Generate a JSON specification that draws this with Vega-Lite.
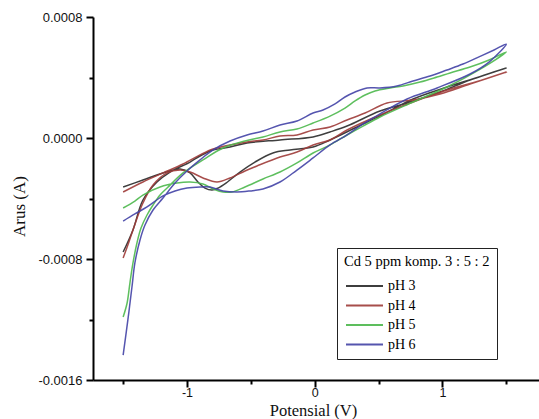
{
  "$schema": "https://vega.github.io/schema/vega-lite/v6.json",
  "width": 446,
  "height": 363,
  "autosize": {"type": "none"},
  "padding": {"left": 93, "top": 17, "right": 0, "bottom": 39},
  "background": "white",
  "config": {"view": {"stroke": null}},
  "data": {"values": [
    {"s":"pH 3","o":1,"v":-1.5,"i":-0.000324},
    {"s":"pH 3","o":2,"v":-1.345,"i":-0.000278},
    {"s":"pH 3","o":3,"v":-1.188,"i":-0.000231},
    {"s":"pH 3","o":4,"v":-1.054,"i":-0.000205},
    {"s":"pH 3","o":5,"v":-0.976,"i":-0.000231},
    {"s":"pH 3","o":6,"v":-0.914,"i":-0.000291},
    {"s":"pH 3","o":7,"v":-0.859,"i":-0.000331},
    {"s":"pH 3","o":8,"v":-0.804,"i":-0.000344},
    {"s":"pH 3","o":9,"v":-0.757,"i":-0.000331},
    {"s":"pH 3","o":10,"v":-0.695,"i":-0.000298},
    {"s":"pH 3","o":11,"v":-0.585,"i":-0.000225},
    {"s":"pH 3","o":12,"v":-0.468,"i":-0.000159},
    {"s":"pH 3","o":13,"v":-0.327,"i":-0.000099},
    {"s":"pH 3","o":14,"v":-0.193,"i":-0.000079},
    {"s":"pH 3","o":15,"v":-0.013,"i":-0.000060},
    {"s":"pH 3","o":16,"v":0.120,"i":-0.000013},
    {"s":"pH 3","o":17,"v":0.331,"i":0.000073},
    {"s":"pH 3","o":18,"v":0.511,"i":0.000146},
    {"s":"pH 3","o":19,"v":0.770,"i":0.000258},
    {"s":"pH 3","o":20,"v":1.036,"i":0.000337},
    {"s":"pH 3","o":21,"v":1.286,"i":0.000403},
    {"s":"pH 3","o":22,"v":1.5,"i":0.000463},
    {"s":"pH 3","o":23,"v":1.216,"i":0.000383},
    {"s":"pH 3","o":24,"v":0.981,"i":0.000304},
    {"s":"pH 3","o":25,"v":0.723,"i":0.000231},
    {"s":"pH 3","o":26,"v":0.511,"i":0.000179},
    {"s":"pH 3","o":27,"v":0.253,"i":0.000079},
    {"s":"pH 3","o":28,"v":0.120,"i":0.000040},
    {"s":"pH 3","o":29,"v":-0.013,"i":0.000007},
    {"s":"pH 3","o":30,"v":-0.272,"i":-0.000013},
    {"s":"pH 3","o":31,"v":-0.530,"i":-0.000033},
    {"s":"pH 3","o":32,"v":-0.663,"i":-0.000060},
    {"s":"pH 3","o":33,"v":-0.796,"i":-0.000079},
    {"s":"pH 3","o":34,"v":-0.898,"i":-0.000119},
    {"s":"pH 3","o":35,"v":-0.976,"i":-0.000159},
    {"s":"pH 3","o":36,"v":-1.133,"i":-0.000225},
    {"s":"pH 3","o":37,"v":-1.235,"i":-0.000291},
    {"s":"pH 3","o":38,"v":-1.345,"i":-0.000410},
    {"s":"pH 3","o":39,"v":-1.423,"i":-0.000608},
    {"s":"pH 3","o":40,"v":-1.5,"i":-0.000754},

    {"s":"pH 4","o":1,"v":-1.5,"i":-0.000793},
    {"s":"pH 4","o":2,"v":-1.463,"i":-0.000707},
    {"s":"pH 4","o":3,"v":-1.423,"i":-0.000608},
    {"s":"pH 4","o":4,"v":-1.345,"i":-0.000430},
    {"s":"pH 4","o":5,"v":-1.266,"i":-0.000311},
    {"s":"pH 4","o":6,"v":-1.156,"i":-0.000231},
    {"s":"pH 4","o":7,"v":-1.054,"i":-0.000212},
    {"s":"pH 4","o":8,"v":-0.976,"i":-0.000225},
    {"s":"pH 4","o":9,"v":-0.875,"i":-0.000264},
    {"s":"pH 4","o":10,"v":-0.765,"i":-0.000291},
    {"s":"pH 4","o":11,"v":-0.663,"i":-0.000264},
    {"s":"pH 4","o":12,"v":-0.546,"i":-0.000218},
    {"s":"pH 4","o":13,"v":-0.452,"i":-0.000185},
    {"s":"pH 4","o":14,"v":-0.272,"i":-0.000126},
    {"s":"pH 4","o":15,"v":-0.139,"i":-0.000093},
    {"s":"pH 4","o":16,"v":-0.013,"i":-0.000046},
    {"s":"pH 4","o":17,"v":0.120,"i":-0.000013},
    {"s":"pH 4","o":18,"v":0.253,"i":0.000053},
    {"s":"pH 4","o":19,"v":0.511,"i":0.000152},
    {"s":"pH 4","o":20,"v":0.770,"i":0.000238},
    {"s":"pH 4","o":21,"v":1.036,"i":0.000317},
    {"s":"pH 4","o":22,"v":1.286,"i":0.000377},
    {"s":"pH 4","o":23,"v":1.5,"i":0.000436},
    {"s":"pH 4","o":24,"v":1.216,"i":0.000357},
    {"s":"pH 4","o":25,"v":0.981,"i":0.000291},
    {"s":"pH 4","o":26,"v":0.770,"i":0.000251},
    {"s":"pH 4","o":27,"v":0.566,"i":0.000231},
    {"s":"pH 4","o":28,"v":0.394,"i":0.000165},
    {"s":"pH 4","o":29,"v":0.253,"i":0.000119},
    {"s":"pH 4","o":30,"v":0.120,"i":0.000073},
    {"s":"pH 4","o":31,"v":-0.013,"i":0.000053},
    {"s":"pH 4","o":32,"v":-0.139,"i":0.000020},
    {"s":"pH 4","o":33,"v":-0.272,"i":0.000013},
    {"s":"pH 4","o":34,"v":-0.405,"i":-0.000013},
    {"s":"pH 4","o":35,"v":-0.530,"i":-0.000026},
    {"s":"pH 4","o":36,"v":-0.663,"i":-0.000046},
    {"s":"pH 4","o":37,"v":-0.796,"i":-0.000073},
    {"s":"pH 4","o":38,"v":-0.898,"i":-0.000112},
    {"s":"pH 4","o":39,"v":-1.031,"i":-0.000172},
    {"s":"pH 4","o":40,"v":-1.188,"i":-0.000231},
    {"s":"pH 4","o":41,"v":-1.345,"i":-0.000291},
    {"s":"pH 4","o":42,"v":-1.5,"i":-0.000357},

    {"s":"pH 5","o":1,"v":-1.5,"i":-0.001184},
    {"s":"pH 5","o":2,"v":-1.469,"i":-0.001091},
    {"s":"pH 5","o":3,"v":-1.447,"i":-0.000959},
    {"s":"pH 5","o":4,"v":-1.423,"i":-0.000826},
    {"s":"pH 5","o":5,"v":-1.392,"i":-0.000694},
    {"s":"pH 5","o":6,"v":-1.360,"i":-0.000595},
    {"s":"pH 5","o":7,"v":-1.313,"i":-0.000509},
    {"s":"pH 5","o":8,"v":-1.266,"i":-0.000443},
    {"s":"pH 5","o":9,"v":-1.211,"i":-0.000377},
    {"s":"pH 5","o":10,"v":-1.156,"i":-0.000331},
    {"s":"pH 5","o":11,"v":-1.031,"i":-0.000231},
    {"s":"pH 5","o":12,"v":-0.875,"i":-0.000145},
    {"s":"pH 5","o":13,"v":-0.718,"i":-0.000066},
    {"s":"pH 5","o":14,"v":-0.546,"i":-0.000020},
    {"s":"pH 5","o":15,"v":-0.405,"i":0.000007},
    {"s":"pH 5","o":16,"v":-0.272,"i":0.000040},
    {"s":"pH 5","o":17,"v":-0.139,"i":0.000060},
    {"s":"pH 5","o":18,"v":-0.013,"i":0.000099},
    {"s":"pH 5","o":19,"v":0.120,"i":0.000145},
    {"s":"pH 5","o":20,"v":0.237,"i":0.000198},
    {"s":"pH 5","o":21,"v":0.316,"i":0.000245},
    {"s":"pH 5","o":22,"v":0.394,"i":0.000284},
    {"s":"pH 5","o":23,"v":0.472,"i":0.000311},
    {"s":"pH 5","o":24,"v":0.590,"i":0.000331},
    {"s":"pH 5","o":25,"v":0.691,"i":0.000344},
    {"s":"pH 5","o":26,"v":0.825,"i":0.000370},
    {"s":"pH 5","o":27,"v":0.958,"i":0.000403},
    {"s":"pH 5","o":28,"v":1.060,"i":0.000430},
    {"s":"pH 5","o":29,"v":1.216,"i":0.000469},
    {"s":"pH 5","o":30,"v":1.365,"i":0.000516},
    {"s":"pH 5","o":31,"v":1.5,"i":0.000569},
    {"s":"pH 5","o":32,"v":1.286,"i":0.000450},
    {"s":"pH 5","o":33,"v":1.036,"i":0.000337},
    {"s":"pH 5","o":34,"v":0.770,"i":0.000238},
    {"s":"pH 5","o":35,"v":0.511,"i":0.000139},
    {"s":"pH 5","o":36,"v":0.378,"i":0.000079},
    {"s":"pH 5","o":37,"v":0.253,"i":0.000020},
    {"s":"pH 5","o":38,"v":0.120,"i":-0.000046},
    {"s":"pH 5","o":39,"v":-0.013,"i":-0.000099},
    {"s":"pH 5","o":40,"v":-0.139,"i":-0.000165},
    {"s":"pH 5","o":41,"v":-0.272,"i":-0.000225},
    {"s":"pH 5","o":42,"v":-0.405,"i":-0.000271},
    {"s":"pH 5","o":43,"v":-0.546,"i":-0.000324},
    {"s":"pH 5","o":44,"v":-0.648,"i":-0.000357},
    {"s":"pH 5","o":45,"v":-0.718,"i":-0.000357},
    {"s":"pH 5","o":46,"v":-0.796,"i":-0.000337},
    {"s":"pH 5","o":47,"v":-0.875,"i":-0.000304},
    {"s":"pH 5","o":48,"v":-0.976,"i":-0.000291},
    {"s":"pH 5","o":49,"v":-1.078,"i":-0.000298},
    {"s":"pH 5","o":50,"v":-1.211,"i":-0.000324},
    {"s":"pH 5","o":51,"v":-1.345,"i":-0.000377},
    {"s":"pH 5","o":52,"v":-1.408,"i":-0.000417},
    {"s":"pH 5","o":53,"v":-1.5,"i":-0.000463},

    {"s":"pH 6","o":1,"v":-1.5,"i":-0.001435},
    {"s":"pH 6","o":2,"v":-1.463,"i":-0.001203},
    {"s":"pH 6","o":3,"v":-1.431,"i":-0.000985},
    {"s":"pH 6","o":4,"v":-1.408,"i":-0.000826},
    {"s":"pH 6","o":5,"v":-1.368,"i":-0.000674},
    {"s":"pH 6","o":6,"v":-1.329,"i":-0.000575},
    {"s":"pH 6","o":7,"v":-1.266,"i":-0.000476},
    {"s":"pH 6","o":8,"v":-1.188,"i":-0.000397},
    {"s":"pH 6","o":9,"v":-1.094,"i":-0.000298},
    {"s":"pH 6","o":10,"v":-1.000,"i":-0.000218},
    {"s":"pH 6","o":11,"v":-0.898,"i":-0.000145},
    {"s":"pH 6","o":12,"v":-0.796,"i":-0.000079},
    {"s":"pH 6","o":13,"v":-0.663,"i":-0.000020},
    {"s":"pH 6","o":14,"v":-0.530,"i":0.000020},
    {"s":"pH 6","o":15,"v":-0.405,"i":0.000046},
    {"s":"pH 6","o":16,"v":-0.272,"i":0.000086},
    {"s":"pH 6","o":17,"v":-0.139,"i":0.000112},
    {"s":"pH 6","o":18,"v":-0.013,"i":0.000165},
    {"s":"pH 6","o":19,"v":0.065,"i":0.000185},
    {"s":"pH 6","o":20,"v":0.159,"i":0.000225},
    {"s":"pH 6","o":21,"v":0.237,"i":0.000271},
    {"s":"pH 6","o":22,"v":0.316,"i":0.000304},
    {"s":"pH 6","o":23,"v":0.410,"i":0.000331},
    {"s":"pH 6","o":24,"v":0.511,"i":0.000331},
    {"s":"pH 6","o":25,"v":0.644,"i":0.000344},
    {"s":"pH 6","o":26,"v":0.770,"i":0.000377},
    {"s":"pH 6","o":27,"v":0.903,"i":0.000410},
    {"s":"pH 6","o":28,"v":1.036,"i":0.000450},
    {"s":"pH 6","o":29,"v":1.161,"i":0.000489},
    {"s":"pH 6","o":30,"v":1.286,"i":0.000536},
    {"s":"pH 6","o":31,"v":1.404,"i":0.000582},
    {"s":"pH 6","o":32,"v":1.5,"i":0.000621},
    {"s":"pH 6","o":33,"v":1.365,"i":0.000502},
    {"s":"pH 6","o":34,"v":1.216,"i":0.000423},
    {"s":"pH 6","o":35,"v":0.958,"i":0.000331},
    {"s":"pH 6","o":36,"v":0.723,"i":0.000258},
    {"s":"pH 6","o":37,"v":0.511,"i":0.000159},
    {"s":"pH 6","o":38,"v":0.378,"i":0.000093},
    {"s":"pH 6","o":39,"v":0.253,"i":0.000020},
    {"s":"pH 6","o":40,"v":0.120,"i":-0.000046},
    {"s":"pH 6","o":41,"v":-0.013,"i":-0.000132},
    {"s":"pH 6","o":42,"v":-0.139,"i":-0.000212},
    {"s":"pH 6","o":43,"v":-0.272,"i":-0.000291},
    {"s":"pH 6","o":44,"v":-0.405,"i":-0.000337},
    {"s":"pH 6","o":45,"v":-0.507,"i":-0.000350},
    {"s":"pH 6","o":46,"v":-0.608,"i":-0.000357},
    {"s":"pH 6","o":47,"v":-0.718,"i":-0.000350},
    {"s":"pH 6","o":48,"v":-0.820,"i":-0.000324},
    {"s":"pH 6","o":49,"v":-0.898,"i":-0.000324},
    {"s":"pH 6","o":50,"v":-1.000,"i":-0.000331},
    {"s":"pH 6","o":51,"v":-1.094,"i":-0.000350},
    {"s":"pH 6","o":52,"v":-1.188,"i":-0.000383},
    {"s":"pH 6","o":53,"v":-1.313,"i":-0.000456},
    {"s":"pH 6","o":54,"v":-1.408,"i":-0.000502},
    {"s":"pH 6","o":55,"v":-1.5,"i":-0.000549}
  ]},
  "mark": {"type": "line", "strokeWidth": 1.5, "interpolate": "catmull-rom", "opacity": 0.9},
  "encoding": {
    "x": {
      "field": "v", "type": "quantitative",
      "scale": {"domain": [-1.736, 1.756], "nice": false, "zero": false},
      "axis": {
        "title": "Potensial (V)",
        "values": [-1.5, -1, -0.5, 0, 0.5, 1, 1.5],
        "labelExpr": "datum.value % 1 == 0 ? (datum.value < 0 ? '-' + abs(datum.value) : '' + datum.value) : ''",
        "grid": false,
        "domainColor": "#000", "domainWidth": 2,
        "tickColor": "#000", "tickWidth": 2,
        "tickSize": {"condition": {"test": "datum.value % 1 == 0", "value": 7}, "value": 4},
        "labelFont": "Liberation Sans", "labelFontSize": 12.5, "labelColor": "#111",
        "labelPadding": -1, "labelFlush": false, "labelOverlap": false,
        "titleFont": "Liberation Serif", "titleFontSize": 16.5, "titleFontWeight": "normal", "titleColor": "#111",
        "titleX": 220, "titleY": 35.4, "titleBaseline": "alphabetic", "titleAlign": "center"
      }
    },
    "y": {
      "field": "i", "type": "quantitative",
      "scale": {"domain": [-0.0016, 0.0008], "nice": false, "zero": false},
      "axis": {
        "title": "Arus (A)",
        "values": [-0.0016, -0.0012, -0.0008, -0.0004, 0, 0.0004, 0.0008],
        "labelExpr": "abs(round(datum.value*10000)) % 8 == 0 ? (datum.value < 0 ? '-' : '') + format(abs(datum.value), '.4f') : ''",
        "grid": false,
        "domainColor": "#000", "domainWidth": 2,
        "tickColor": "#000", "tickWidth": 2,
        "tickSize": {"condition": {"test": "abs(round(datum.value*10000)) % 8 == 0", "value": 7}, "value": 4},
        "labelFont": "Liberation Sans", "labelFontSize": 13, "labelColor": "#111",
        "labelPadding": 4, "labelFlush": false, "labelOverlap": false,
        "titleFont": "Liberation Serif", "titleFontSize": 17, "titleFontWeight": "normal", "titleColor": "#111",
        "titleX": -69, "titleY": 189, "titleBaseline": "alphabetic", "titleAlign": "center", "titleAngle": 270
      }
    },
    "color": {
      "field": "s", "type": "nominal",
      "scale": {"domain": ["pH 3", "pH 4", "pH 5", "pH 6"], "range": ["#2a2a2a", "#9e3b38", "#4cb84c", "#4343a6"]},
      "legend": {
        "title": "Cd 5 ppm komp. 3 : 5 : 2",
        "orient": "none", "legendX": 244, "legendY": 231,
        "direction": "vertical",
        "padding": 7, "strokeColor": "#222", "fillColor": "white",
        "titleFont": "Liberation Serif", "titleFontSize": 14.5, "titleFontWeight": "normal", "titleColor": "#000",
        "titlePadding": 8, "titleLimit": 300,
        "labelFont": "Liberation Serif", "labelFontSize": 14, "labelColor": "#000", "labelLimit": 200,
        "symbolType": "M-2.5,0H2.5", "symbolSize": 219, "symbolStrokeWidth": 2, "symbolOffset": 12,
        "labelOffset": 15, "rowPadding": 3.5
      }
    },
    "order": {"field": "o", "type": "quantitative"}
  }
}
